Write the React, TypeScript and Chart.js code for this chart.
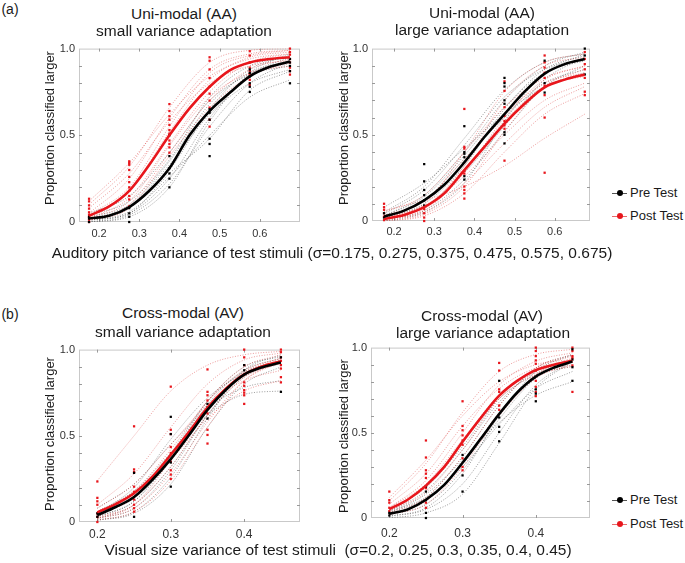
import React, { useEffect, useRef } from 'react';
import { Chart, registerables } from 'chart.js';
Chart.register(...registerables);

const FONT = '"Liberation Sans", Arial, Helvetica, sans-serif';

// ---------- stimulus levels / tick labels ----------
const audX = [0.175, 0.275, 0.375, 0.475, 0.575, 0.675];
const audFitX = [0.175, 0.225, 0.275, 0.325, 0.375, 0.425, 0.475, 0.525, 0.575, 0.625, 0.675];
const audTicks = [0.2, 0.3, 0.4, 0.5, 0.6];
const visX = [0.2, 0.25, 0.3, 0.35, 0.4, 0.45];
const visFitX = [0.2, 0.225, 0.25, 0.275, 0.3, 0.325, 0.35, 0.375, 0.4, 0.425, 0.45];
const visTicks = [0.2, 0.3, 0.4];
const yTicks = [0, 0.5, 1];
const yTickLabels = ['0', '0.5', '1.0'];
const yMinor = [0.1, 0.2, 0.3, 0.4, 0.5, 0.6, 0.7, 0.8, 0.9];

// ---------- (a) Uni-modal, small variance adaptation ----------
const aaSmallPreFit = [0.02, 0.036, 0.086, 0.18, 0.31, 0.5, 0.64, 0.745, 0.84, 0.895, 0.925];
const aaSmallPostFit = [0.036, 0.09, 0.18, 0.33, 0.5, 0.655, 0.78, 0.875, 0.92, 0.94, 0.95];
const aaSmallPreDots = [
  [0.03, 0.02, 0.0],
  [0.08, 0.05, 0.03, 0.0],
  [0.5, 0.38, 0.31, 0.28, 0.25, 0.2],
  [0.65, 0.63, 0.59, 0.48, 0.45, 0.38],
  [0.88, 0.86, 0.84, 0.8, 0.78, 0.75],
  [0.94, 0.92, 0.9, 0.87, 0.8],
];
const aaSmallPostDots = [
  [0.134, 0.119, 0.096, 0.077, 0.056, 0.042, 0.029, 0.013, 0],
  [0.35, 0.34, 0.33, 0.3, 0.26, 0.23, 0.2, 0.18, 0.15, 0.13, 0.09],
  [0.68, 0.64, 0.61, 0.59, 0.56, 0.53, 0.51, 0.47, 0.45, 0.43, 0.4],
  [0.95, 0.93, 0.88, 0.83, 0.78, 0.74, 0.7, 0.66, 0.59, 0.55],
  [0.985, 0.96, 0.92, 0.89, 0.87, 0.85, 0.82, 0.79],
  [1.0, 0.98, 0.965, 0.94, 0.92, 0.89, 0.87, 0.85],
];
const aaSmallPreCurves = [
  [0.01, 0.05, 0.25, 0.6, 0.85, 0.95],
  [0.03, 0.1, 0.35, 0.68, 0.86, 0.93],
  [0.0, 0.04, 0.22, 0.55, 0.8, 0.92],
  [0.02, 0.08, 0.3, 0.65, 0.88, 0.96],
  [0.05, 0.15, 0.4, 0.7, 0.85, 0.9],
  [0.01, 0.06, 0.26, 0.5, 0.72, 0.82],
  [0.02, 0.09, 0.33, 0.62, 0.8, 0.88],
  [0.0, 0.03, 0.2, 0.58, 0.86, 0.97],
  [0.04, 0.12, 0.36, 0.72, 0.9, 0.95],
  [0.01, 0.05, 0.28, 0.48, 0.76, 0.87],
];
const aaSmallPostCurves = [
  [0.1, 0.32, 0.66, 0.92, 0.99, 1.0],
  [0.05, 0.25, 0.6, 0.88, 0.97, 0.99],
  [0.02, 0.14, 0.45, 0.75, 0.92, 0.97],
  [0.03, 0.18, 0.52, 0.82, 0.95, 0.98],
  [0.01, 0.1, 0.4, 0.7, 0.88, 0.94],
  [0.08, 0.28, 0.58, 0.8, 0.9, 0.93],
  [0.02, 0.12, 0.44, 0.72, 0.86, 0.9],
  [0.04, 0.2, 0.55, 0.86, 0.96, 0.99],
  [0.12, 0.34, 0.62, 0.84, 0.94, 0.97],
  [0.01, 0.08, 0.38, 0.66, 0.84, 0.92],
];

// ---------- (a) Uni-modal, large variance adaptation ----------
const aaLargePreFit = [0.025, 0.06, 0.12, 0.21, 0.34, 0.487, 0.62, 0.75, 0.855, 0.91, 0.94];
const aaLargePostFit = [0.012, 0.035, 0.08, 0.16, 0.295, 0.43, 0.565, 0.68, 0.775, 0.82, 0.85];
const aaLargePreDots = [
  [0.045, 0.02],
  [0.33, 0.23, 0.18, 0.15, 0.12, 0.09],
  [0.55, 0.4, 0.39, 0.37, 0.26, 0.24],
  [0.83, 0.8, 0.78, 0.7, 0.68, 0.515, 0.5, 0.45],
  [0.93, 0.8, 0.745],
  [1.0, 0.96, 0.85],
];
const aaLargePostDots = [
  [0.1, 0.08, 0.065, 0.045, 0.025, 0.005],
  [0.07, 0.045, 0.02, 0],
  [0.65, 0.43, 0.42, 0.29, 0.275, 0.2, 0.18, 0.16, 0.13],
  [0.81, 0.755, 0.66, 0.61, 0.58, 0.555, 0.535, 0.35],
  [0.96, 0.92, 0.89, 0.86, 0.83, 0.785, 0.73, 0.6, 0.28],
  [0.98, 0.94, 0.91, 0.88, 0.83, 0.75, 0.73],
];
const aaLargePreCurves = [
  [0.02, 0.1, 0.32, 0.65, 0.88, 0.96],
  [0.05, 0.2, 0.48, 0.76, 0.92, 0.97],
  [0.01, 0.08, 0.28, 0.55, 0.82, 0.95],
  [0.03, 0.15, 0.4, 0.7, 0.9, 0.98],
  [0.01, 0.06, 0.24, 0.52, 0.78, 0.9],
  [0.04, 0.18, 0.44, 0.72, 0.88, 0.94],
  [0.02, 0.12, 0.36, 0.6, 0.8, 0.88],
  [0.0, 0.05, 0.22, 0.58, 0.86, 0.97],
  [0.03, 0.14, 0.38, 0.66, 0.86, 0.93],
  [0.08, 0.22, 0.42, 0.62, 0.78, 0.86],
];
const aaLargePostCurves = [
  [0.01, 0.06, 0.28, 0.6, 0.82, 0.9],
  [0.02, 0.1, 0.4, 0.75, 0.92, 0.97],
  [0.0, 0.04, 0.2, 0.52, 0.78, 0.88],
  [0.03, 0.12, 0.36, 0.62, 0.8, 0.86],
  [0.01, 0.05, 0.22, 0.45, 0.66, 0.78],
  [0.05, 0.15, 0.4, 0.66, 0.83, 0.9],
  [0.0, 0.03, 0.16, 0.4, 0.62, 0.74],
  [0.02, 0.08, 0.3, 0.58, 0.78, 0.84],
  [0.06, 0.12, 0.2, 0.32, 0.48, 0.62],
  [0.01, 0.07, 0.32, 0.7, 0.9, 0.95],
  [0.02, 0.09, 0.26, 0.5, 0.7, 0.8],
];

// ---------- (b) Cross-modal, small variance adaptation ----------
const avSmallPreFit = [0.04, 0.087, 0.145, 0.245, 0.365, 0.505, 0.65, 0.767, 0.855, 0.898, 0.925];
const avSmallPostFit = [0.055, 0.104, 0.167, 0.263, 0.39, 0.523, 0.663, 0.773, 0.856, 0.904, 0.933];
const avSmallPreDots = [
  [0.05, 0.03],
  [0.285, 0.03],
  [0.61, 0.51, 0.345, 0.205],
  [0.685, 0.665, 0.6],
  [0.91, 0.88, 0.855],
  [0.955, 0.755],
];
const avSmallPostDots = [
  [0.235, 0.14, 0.12, 0.1, 0.05, 0.03, 0],
  [0.555, 0.305, 0.29, 0.205, 0.175, 0.13, 0.1, 0.08, 0.06],
  [0.785, 0.535, 0.51, 0.435, 0.4, 0.35, 0.3, 0.275, 0.25],
  [0.885, 0.755, 0.735, 0.705, 0.63, 0.535, 0.505, 0.455],
  [1.0, 0.955, 0.91, 0.81, 0.79, 0.765, 0.75, 0.735, 0.685],
  [1.0, 0.985, 0.955, 0.935, 0.91, 0.89, 0.84, 0.81],
];
const avSmallPreCurves = [
  [0.02, 0.1, 0.32, 0.62, 0.84, 0.93],
  [0.05, 0.2, 0.48, 0.72, 0.86, 0.92],
  [0.01, 0.06, 0.26, 0.6, 0.88, 0.97],
  [0.03, 0.12, 0.36, 0.68, 0.88, 0.95],
  [0.08, 0.22, 0.45, 0.66, 0.78, 0.82],
  [0.02, 0.08, 0.3, 0.62, 0.86, 0.94],
  [0.04, 0.15, 0.4, 0.7, 0.87, 0.93],
  [0.01, 0.05, 0.22, 0.55, 0.8, 0.9],
  [0.06, 0.18, 0.4, 0.62, 0.74, 0.76],
  [0.03, 0.12, 0.38, 0.7, 0.9, 0.96],
];
const avSmallPostCurves = [
  [0.24, 0.5, 0.76, 0.91, 0.97, 0.99],
  [0.1, 0.28, 0.55, 0.8, 0.94, 0.98],
  [0.04, 0.14, 0.38, 0.66, 0.87, 0.95],
  [0.02, 0.08, 0.28, 0.58, 0.82, 0.93],
  [0.06, 0.18, 0.42, 0.7, 0.88, 0.95],
  [0.01, 0.06, 0.24, 0.55, 0.82, 0.94],
  [0.08, 0.22, 0.45, 0.68, 0.82, 0.88],
  [0.03, 0.1, 0.32, 0.62, 0.84, 0.92],
  [0.05, 0.16, 0.36, 0.6, 0.76, 0.82],
  [0.02, 0.1, 0.36, 0.7, 0.9, 0.97],
];

// ---------- (b) Cross-modal, large variance adaptation ----------
const avLargePreFit = [0.025, 0.05, 0.107, 0.194, 0.324, 0.466, 0.61, 0.738, 0.83, 0.883, 0.918];
const avLargePostFit = [0.052, 0.107, 0.19, 0.3, 0.447, 0.588, 0.718, 0.806, 0.868, 0.9, 0.922];
const avLargePreDots = [
  [0.03, 0.015],
  [0.185, 0.155, 0.105, 0.03, 0],
  [0.37, 0.25, 0.155],
  [0.805, 0.59, 0.535, 0.505, 0.45],
  [0.755, 0.73, 0.685],
  [0.99, 0.93, 0.885, 0.805],
];
const avLargePostDots = [
  [0.155, 0.105, 0.09, 0.06, 0.04],
  [0.455, 0.355, 0.28, 0.26, 0.235, 0.175, 0.09, 0.06],
  [0.685, 0.54, 0.515, 0.485, 0.455, 0.43, 0.35, 0.3, 0.28],
  [0.91, 0.865, 0.755, 0.74, 0.66, 0.635],
  [1.0, 0.98, 0.95, 0.925, 0.905, 0.865, 0.805, 0.77, 0.74, 0.715],
  [1.0, 0.98, 0.95, 0.94, 0.895, 0.74],
];
const avLargePreCurves = [
  [0.02, 0.1, 0.32, 0.62, 0.84, 0.93],
  [0.04, 0.16, 0.4, 0.68, 0.86, 0.93],
  [0.01, 0.05, 0.2, 0.5, 0.78, 0.92],
  [0.03, 0.12, 0.36, 0.66, 0.88, 0.96],
  [0.0, 0.03, 0.14, 0.44, 0.76, 0.92],
  [0.05, 0.18, 0.42, 0.7, 0.84, 0.89],
  [0.02, 0.08, 0.28, 0.58, 0.82, 0.92],
  [0.03, 0.14, 0.34, 0.56, 0.72, 0.8],
  [0.01, 0.06, 0.26, 0.6, 0.86, 0.96],
  [0.04, 0.12, 0.3, 0.55, 0.76, 0.86],
];
const avLargePostCurves = [
  [0.1, 0.32, 0.62, 0.86, 0.96, 0.99],
  [0.06, 0.22, 0.5, 0.78, 0.92, 0.97],
  [0.04, 0.15, 0.4, 0.7, 0.88, 0.95],
  [0.02, 0.1, 0.32, 0.62, 0.84, 0.94],
  [0.08, 0.26, 0.54, 0.76, 0.88, 0.92],
  [0.05, 0.18, 0.44, 0.7, 0.84, 0.89],
  [0.12, 0.34, 0.6, 0.8, 0.9, 0.93],
  [0.03, 0.12, 0.36, 0.66, 0.88, 0.96],
  [0.06, 0.2, 0.46, 0.72, 0.85, 0.9],
  [0.02, 0.08, 0.3, 0.6, 0.82, 0.9],
];

// ---------- colours ----------
const RED = '#e8161c';
const BLACK = '#000000';
const RED_THIN = 'rgba(222,70,70,0.6)';
const BLACK_THIN = 'rgba(70,70,70,0.6)';

type PanelDef = {
  box: { left: number; top: number; right: number; bottom: number };
  xMin: number; xMax: number;
  xs: number[]; fitX: number[]; ticks: number[];
  preFit: number[]; postFit: number[];
  preDots: number[][]; postDots: number[][];
  preCurves: number[][]; postCurves: number[][];
  tickFont: number; tickPad: number;
};

const panels: PanelDef[] = [
  {
    box: { left: 79, top: 48, right: 300, bottom: 222 }, xMin: 0.15, xMax: 0.7,
    xs: audX, fitX: audFitX, ticks: audTicks,
    preFit: aaSmallPreFit, postFit: aaSmallPostFit, preDots: aaSmallPreDots, postDots: aaSmallPostDots,
    preCurves: aaSmallPreCurves, postCurves: aaSmallPostCurves, tickFont: 11, tickPad: 5,
  },
  {
    box: { left: 372, top: 48, right: 590, bottom: 221 }, xMin: 0.145, xMax: 0.688,
    xs: audX, fitX: audFitX, ticks: audTicks,
    preFit: aaLargePreFit, postFit: aaLargePostFit, preDots: aaLargePreDots, postDots: aaLargePostDots,
    preCurves: aaLargePreCurves, postCurves: aaLargePostCurves, tickFont: 11, tickPad: 4,
  },
  {
    box: { left: 79, top: 349, right: 300, bottom: 522 }, xMin: 0.175, xMax: 0.476,
    xs: visX, fitX: visFitX, ticks: visTicks,
    preFit: avSmallPreFit, postFit: avSmallPostFit, preDots: avSmallPreDots, postDots: avSmallPostDots,
    preCurves: avSmallPreCurves, postCurves: avSmallPostCurves, tickFont: 12, tickPad: 5,
  },
  {
    box: { left: 371, top: 347, right: 590, bottom: 518 }, xMin: 0.175, xMax: 0.474,
    xs: visX, fitX: visFitX, ticks: visTicks,
    preFit: avLargePreFit, postFit: avLargePostFit, preDots: avLargePreDots, postDots: avLargePostDots,
    preCurves: avLargePreCurves, postCurves: avLargePostCurves, tickFont: 12, tickPad: 8,
  },
];

const YW = 34;
const PT = 10;
const PR = 8;
const XH = 30;

const framePlugin = {
  id: 'frame',
  beforeDatasetsDraw(chart: any) {
    const { ctx, chartArea: a, scales } = chart;
    const ticks: number[] = chart.options.plugins.frame.ticks;
    ctx.save();
    ctx.strokeStyle = '#c9c9c9';
    ctx.lineWidth = 1;
    ctx.strokeRect(a.left + 0.5, a.top + 0.5, a.right - a.left - 1, a.bottom - a.top - 1);
    ctx.strokeStyle = '#9a9a9a';
    ctx.beginPath();
    yMinor.forEach((v) => {
      const y = Math.round(scales.y.getPixelForValue(v)) + 0.5;
      ctx.moveTo(a.left, y); ctx.lineTo(a.left + 3, y);
      ctx.moveTo(a.right, y); ctx.lineTo(a.right - 3, y);
    });
    ticks.forEach((v) => {
      const x = Math.round(scales.x.getPixelForValue(v)) + 0.5;
      ctx.moveTo(x, a.top); ctx.lineTo(x, a.top + 3);
      ctx.moveTo(x, a.bottom); ctx.lineTo(x, a.bottom - 3);
    });
    ctx.stroke();
    ctx.restore();
  },
};

function curveSet(xs: number[], ys: number[]) {
  return xs.map((x, i) => ({ x, y: ys[i] }));
}
function dotSet(xs: number[], groups: number[][]) {
  const out: { x: number; y: number }[] = [];
  xs.forEach((x, i) => groups[i].forEach((y) => out.push({ x, y })));
  return out;
}

function Panel({ p }: { p: PanelDef }) {
  const ref = useRef<HTMLCanvasElement>(null);
  const W = YW + (p.box.right - p.box.left) + PR;
  const H = PT + (p.box.bottom - p.box.top) + XH;
  useEffect(() => {
    if (!ref.current) return;
    const datasets: any[] = [];
    const thin = (ys: number[], color: string) => ({
      data: curveSet(p.xs, ys), borderColor: color, borderWidth: 0.9, borderDash: [1, 1.6],
      pointRadius: 0, showLine: true, cubicInterpolationMode: 'monotone', order: 3,
    });
    p.postCurves.forEach((c) => datasets.push(thin(c, RED_THIN)));
    p.preCurves.forEach((c) => datasets.push(thin(c, BLACK_THIN)));
    datasets.push({
      data: dotSet(p.xs, p.preDots), showLine: false, pointStyle: 'rect', pointRadius: 1.6,
      backgroundColor: BLACK, borderWidth: 0, order: 1, clip: false,
    });
    datasets.push({
      data: dotSet(p.xs, p.postDots), showLine: false, pointStyle: 'rect', pointRadius: 1.6,
      backgroundColor: RED, borderWidth: 0, order: 2, clip: false,
    });
    datasets.push({
      data: curveSet(p.fitX, p.preFit), borderColor: BLACK, borderWidth: 2.6, pointRadius: 0,
      showLine: true, cubicInterpolationMode: 'monotone', order: 0,
    });
    datasets.push({
      data: curveSet(p.fitX, p.postFit), borderColor: RED, borderWidth: 2.6, pointRadius: 0,
      showLine: true, cubicInterpolationMode: 'monotone', order: 0,
    });
    const chart = new Chart(ref.current, {
      type: 'line',
      data: { datasets },
      plugins: [framePlugin],
      options: {
        animation: false,
        responsive: false,
        devicePixelRatio: 1,
        layout: { padding: { left: 0, top: PT, right: PR, bottom: 0 } },
        plugins: { legend: { display: false }, tooltip: { enabled: false }, frame: { ticks: p.ticks } } as any,
        scales: {
          x: {
            type: 'linear', min: p.xMin, max: p.xMax,
            grid: { display: false, drawTicks: false }, border: { display: false },
            ticks: {
              font: { family: FONT, size: p.tickFont }, color: '#333', padding: p.tickPad,
              maxRotation: 0, autoSkip: false,
              callback: (v: any) => Number(v).toFixed(1),
            },
            afterBuildTicks: (s: any) => { s.ticks = p.ticks.map((v) => ({ value: v })); },
            afterFit: (s: any) => { s.height = XH; },
          },
          y: {
            type: 'linear', min: 0, max: 1,
            grid: { display: false, drawTicks: false }, border: { display: false },
            ticks: {
              font: { family: FONT, size: 11 }, color: '#333', padding: 4, autoSkip: false,
              callback: (v: any) => yTickLabels[yTicks.indexOf(Number(v))] ?? '',
            },
            afterBuildTicks: (s: any) => { s.ticks = yTicks.map((v) => ({ value: v })); },
            afterFit: (s: any) => { s.width = YW; },
          },
        },
      } as any,
    });
    return () => chart.destroy();
  }, []);
  return (
    <canvas
      ref={ref}
      width={W}
      height={H}
      style={{ position: 'absolute', left: p.box.left - YW, top: p.box.top - PT, width: W, height: H }}
    />
  );
}

function Txt({ cx, cy, size, children, pre }: { cx: number; cy: number; size: number; children: any; pre?: boolean }) {
  return (
    <div
      style={{
        position: 'absolute', left: cx - 350, width: 700, top: cy - 10, height: 20, lineHeight: '20px',
        textAlign: 'center', fontSize: size, whiteSpace: pre ? 'pre' : 'nowrap',
      }}
    >
      {children}
    </div>
  );
}

function YTitle({ cx, cy }: { cx: number; cy: number }) {
  return (
    <div
      style={{
        position: 'absolute', left: cx - 100, top: cy - 10, width: 200, height: 20, lineHeight: '20px',
        textAlign: 'center', fontSize: 13, transform: 'rotate(-90deg)', whiteSpace: 'nowrap',
      }}
    >
      Proportion classified larger
    </div>
  );
}

function LegendItem({ x, y, color, line, label }: { x: number; y: number; color: string; line: string; label: string }) {
  return (
    <div style={{ position: 'absolute', left: x, top: y - 10, height: 20, width: 90 }}>
      <div style={{ position: 'absolute', left: 0, top: 9.5, width: 15, height: 1, background: line }} />
      <div style={{ position: 'absolute', left: 4.5, top: 7, width: 6, height: 6, borderRadius: 3, background: color }} />
      <div style={{ position: 'absolute', left: 18, top: 0, lineHeight: '20px', fontSize: 13, whiteSpace: 'nowrap' }}>{label}</div>
    </div>
  );
}

export default function App() {
  return (
    <div
      style={{
        position: 'absolute', left: 0, top: 0, width: 685, height: 563, background: '#fff',
        fontFamily: FONT, color: '#1a1a1a', overflow: 'hidden',
      }}
    >
      {panels.map((p, i) => (
        <Panel key={i} p={p} />
      ))}
      <Txt cx={10} cy={9} size={14}>(a)</Txt>
      <Txt cx={10} cy={314} size={14}>(b)</Txt>
      <Txt cx={184} cy={14} size={15.5}>Uni-modal (AA)</Txt>
      <Txt cx={184} cy={31} size={15.5}>small variance adaptation</Txt>
      <Txt cx={482} cy={13} size={15.5}>Uni-modal (AA)</Txt>
      <Txt cx={482} cy={30} size={15.5}>large variance adaptation</Txt>
      <Txt cx={183} cy={313} size={15.5}>Cross-modal (AV)</Txt>
      <Txt cx={183} cy={332} size={15.5}>small variance adaptation</Txt>
      <Txt cx={482} cy={316} size={15.5}>Cross-modal (AV)</Txt>
      <Txt cx={483} cy={333} size={15.5}>large variance adaptation</Txt>
      <YTitle cx={50} cy={128} />
      <YTitle cx={344} cy={128} />
      <YTitle cx={50} cy={434} />
      <YTitle cx={344} cy={436} />
      <Txt cx={332} cy={253} size={15.5}>Auditory pitch variance of test stimuli (σ=0.175, 0.275, 0.375, 0.475, 0.575, 0.675)</Txt>
      <Txt cx={338} cy={550} size={15.5} pre>{'Visual size variance of test stimuli  (σ=0.2, 0.25, 0.3, 0.35, 0.4, 0.45)'}</Txt>
      <LegendItem x={612} y={193} color={BLACK} line="#555" label="Pre Test" />
      <LegendItem x={612} y={216} color={RED} line="#e86a6a" label="Post Test" />
      <LegendItem x={612} y={500} color={BLACK} line="#555" label="Pre Test" />
      <LegendItem x={612} y={524} color={RED} line="#e86a6a" label="Post Test" />
    </div>
  );
}
